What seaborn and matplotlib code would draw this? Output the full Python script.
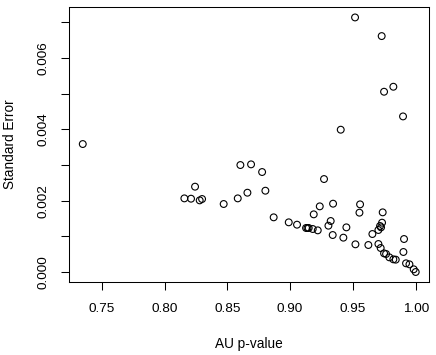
import numpy as np
import pandas as pd
import matplotlib
matplotlib.use("Agg")
import matplotlib.pyplot as plt
import seaborn as sns

# AU p-value vs standard error
au_pvalue = [0.7349, 0.9517, 0.9729, 0.9748, 0.9822, 0.9899, 0.9403, 0.8604,
             0.8689, 0.8777, 0.8243, 0.8158, 0.8211, 0.8280, 0.8299, 0.8471,
             0.8583, 0.8660, 0.8803, 0.8869, 0.8989, 0.9055, 0.9127, 0.9138,
             0.9148, 0.9180, 0.9220, 0.9188, 0.9236, 0.9270, 0.9305, 0.9323,
             0.9339, 0.9342, 0.9424, 0.9448, 0.9520, 0.9552, 0.9557, 0.9623,
             0.9655, 0.9703, 0.9703, 0.9716, 0.9724, 0.9732, 0.9737, 0.9721,
             0.9748, 0.9764, 0.9790, 0.9822, 0.9841, 0.9907, 0.9902, 0.9923,
             0.9950, 0.9984, 1.0000]
std_error = [0.003589, 0.007140, 0.006617, 0.005056, 0.005196, 0.004364,
             0.003991, 0.003000, 0.003019, 0.002804, 0.002393, 0.002065,
             0.002056, 0.002009, 0.002047, 0.001907, 0.002065, 0.002224,
             0.002280, 0.001533, 0.001393, 0.001327, 0.001234, 0.001234,
             0.001234, 0.001206, 0.001168, 0.001617, 0.001841, 0.002607,
             0.001299, 0.001430, 0.001037, 0.001916, 0.000963, 0.001252,
             0.000776, 0.001664, 0.001897, 0.000757, 0.001065, 0.000785,
             0.001178, 0.001290, 0.001252, 0.001383, 0.001673, 0.000673,
             0.000523, 0.000505, 0.000411, 0.000355, 0.000346, 0.000925,
             0.000561, 0.000243, 0.000215, 0.000075, 0.000000]

x_ticks = [0.75, 0.80, 0.85, 0.90, 0.95, 1.00]
y_ticks = [0.000, 0.001, 0.002, 0.003, 0.004, 0.005, 0.006, 0.007]
y_ticklabels = ["0.000", "", "0.002", "", "0.004", "", "0.006", ""]

df = pd.DataFrame({"au": au_pvalue, "se": std_error})

sns.set_theme(style="ticks")
plt.rcParams["font.family"] = ["Liberation Sans", "DejaVu Sans"]

fig = plt.figure(figsize=(4.36, 3.55), dpi=100)
ax = fig.add_axes([0.159, 0.2048, 0.825, 0.776])

sns.scatterplot(data=df, x="au", y="se", ax=ax, marker="o", s=24,
                facecolor="none", edgecolor="black", linewidth=0.8)

ax.set_xlim(0.7242, 1.0106)
ax.set_ylim(-0.000289, 0.007438)
ax.set_xticks(x_ticks)
ax.set_xticklabels([f"{v:.2f}" for v in x_ticks])
ax.set_yticks(y_ticks)
ax.set_yticklabels(y_ticklabels, rotation=90, va="center")

for sp in ax.spines.values():
    sp.set_visible(True)
    sp.set_linewidth(0.75)
    sp.set_color("black")

ax.tick_params(axis="both", length=6, width=0.75, color="black",
               labelsize=9.7, labelcolor="black", direction="out")
ax.tick_params(axis="x", pad=9)
ax.tick_params(axis="y", pad=8)

ax.set_xlabel("AU p-value", fontsize=9.8, color="black")
ax.set_ylabel("Standard Error", fontsize=9.8, color="black")
ax.xaxis.set_label_coords(0.5, -0.224)
ax.xaxis.label.set_va("center")
ax.yaxis.set_label_coords(-0.166, 0.5)
ax.yaxis.label.set_va("center")

fig.savefig("out.png", dpi=100)
